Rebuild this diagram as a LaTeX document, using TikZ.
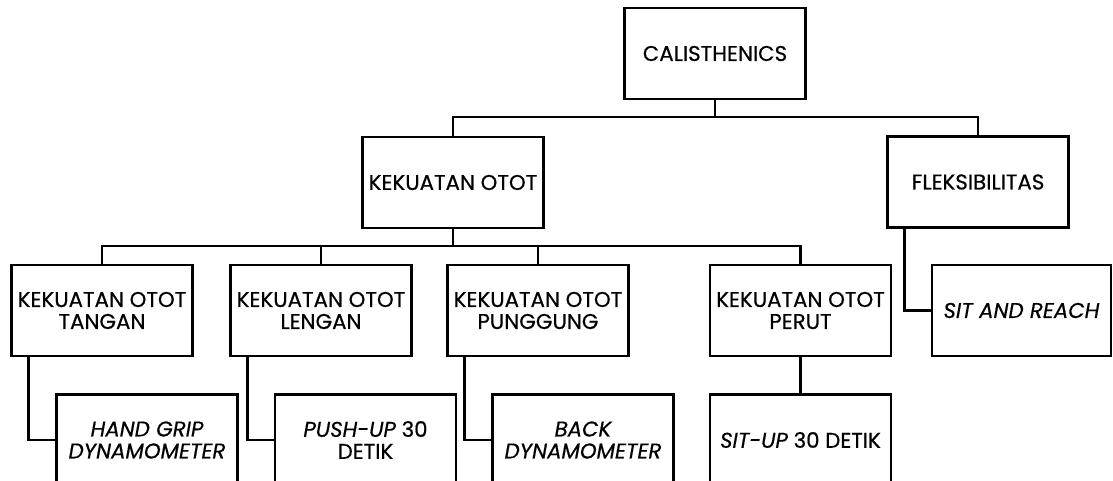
\documentclass[tikz,border=0pt]{standalone}
\usepackage{fontspec}
\setmainfont{Poppins}[FakeBold=0.5,ItalicFeatures={FakeBold=0.5}]
\begin{document}
\begin{tikzpicture}[x=0.75pt,y=-0.75pt,
  box/.style={draw=black,line width=2.1pt,minimum width=135.75pt,minimum height=68.25pt,
    inner sep=0pt,align=center,font=\fontsize{16}{16.5}\selectfont},
  link/.style={draw=black,line width=2.1pt}]
\useasboundingbox (0,0) rectangle (1113,481);
\clip (0,0) rectangle (1113,481);
\node[box] (cal) at (715,53.5) {CALISTHENICS};
\node[box] (ko) at (453,182.5) {KEKUATAN OTOT};
\node[box] (flex) at (978,182) {FLEKSIBILITAS};
\node[box] (tangan) at (102,310.5) {KEKUATAN OTOT\\TANGAN};
\node[box] (lengan) at (321,310.5) {KEKUATAN OTOT\\LENGAN};
\node[box] (punggung) at (538,310.5) {KEKUATAN OTOT\\PUNGGUNG};
\node[box] (perut) at (800.5,310.5) {KEKUATAN OTOT\\PERUT};
\node[box,minimum width=134.25pt] (sar) at (1021.5,310.5) {\itshape SIT AND REACH};
\node[box] (hg) at (147,440) {\itshape HAND GRIP\\\itshape DYNAMOMETER};
\node[box] (pu) at (365.5,440) {\textit{PUSH-UP} 30\\DETIK};
\node[box] (bd) at (583,440) {\itshape BACK\\\itshape DYNAMOMETER};
\node[box] (su) at (800.5,440) {\textit{SIT-UP} 30 DETIK};
\coordinate (b1) at (715,117);
\coordinate (b2) at (453,246);
\draw[link] (cal.south) -- (cal.south |- b1);
\draw[link] (ko.north) -- (ko.north |- b1) -| (flex.north);
\draw[link] (ko.south) -- (ko.south |- b2);
\draw[link] (tangan.north) -- (tangan.north |- b2) -| (perut.north);
\draw[link] (lengan.north) -- (lengan.north |- b2);
\draw[link] (punggung.north) -- (punggung.north |- b2);
\draw[link] ([xshift=13.5pt]tangan.south west) |- (hg.west);
\draw[link] ([xshift=13.5pt]lengan.south west) |- (pu.west);
\draw[link] ([xshift=13.5pt]punggung.south west) |- (bd.west);
\draw[link] ([xshift=13.5pt]flex.south west) |- (sar.west);
\draw[link] (perut.south) -- (su.north);
\end{tikzpicture}
\end{document}
